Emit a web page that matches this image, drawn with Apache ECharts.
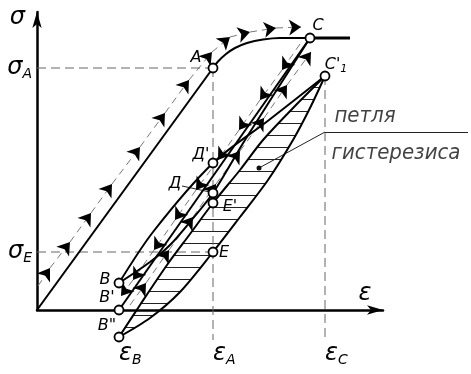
<!DOCTYPE html>
<html><head><meta charset="utf-8">
<script src="https://cdn.jsdelivr.net/npm/echarts@6/dist/echarts.min.js"></script>
<style>html,body{margin:0;padding:0;background:#fff}#c{width:471px;height:374px}</style>
</head><body><div id="c"></div>
<script>
// ---------------- data (strain ε, stress σ, arbitrary units) ----------------
const xTickValues = [8.2, 17.6, 28.8];
const xTickSubs   = ['B', 'A', 'C'];
const yTickValues = [24.2, 5.8];
const yTickSubs   = ['A', 'E'];

const pointNames = ['A', 'C', "C'1", "Д'", 'Д', "E'", 'E', 'B', "B'", 'B"'];
const pointEps   = [17.6, 27.3, 28.8, 17.6, 17.6, 17.6, 17.6, 8.2, 8.2, 8.2];
const pointSig   = [24.2, 27.2, 23.4, 14.7, 11.7, 10.7, 5.8, 2.7, 0, -2.7];

// first loading O-A (elastic) and A-C (yield)
const loadEps  = [0, 17.6];
const loadSig  = [0, 24.2];
const yieldEps = [17.6, 18.1, 18.9, 19.8, 21.0, 22.6, 24.3, 27.3];
const yieldSig = [24.2, 24.85, 25.6, 26.2, 26.7, 27.05, 27.2, 27.2];
const plateauEps = [27.3, 31.3];
const plateauSig = [27.2, 27.2];

// unloading from C
const unloadCBpEps = [27.3, 8.2];
const unloadCBpSig = [27.2, 0];
const unloadCDBEps = [27.3, 20.8, 17.6, 15.3, 13.3, 11.3, 8.2];
const unloadCDBSig = [27.2, 17.0, 11.7, 8.8, 6.5, 4.8, 2.7];
// reloading B - Д' - C'1
const reloadEps = [8.2, 11.6, 17.6, 23.2, 28.8];
const reloadSig = [2.7, 7.8, 14.7, 19.0, 23.4];
// stabilised hysteresis loop B" - E' - C'1 (upper) and B" - E - C'1 (lower)
const loopUpperEps = [8.2, 10.3, 13.0, 15.3, 17.6, 20.3, 22.6, 25.8, 28.8];
const loopUpperSig = [-2.7, 0.5, 4.5, 7.6, 10.7, 14.0, 17.0, 20.4, 23.4];
const loopLowerEps = [8.2, 11.3, 14.3, 17.6, 20.3, 23.1, 25.6, 27.3, 28.8];
const loopLowerSig = [-2.7, -0.8, 1.8, 5.8, 9.3, 13.0, 17.0, 20.2, 23.4];

// dashed direction guides (arrow tips along each guide)
const guideLoadEps   = [0.1, 1.3, 3.3, 5.4, 7.5, 10.3, 12.8, 15.2, 17.5, 19.3, 21.3, 23.9, 26.4];
const guideLoadSig   = [2.4, 4.2, 6.8, 9.7, 12.6, 16.3, 19.7, 23.0, 25.8, 27.3, 27.8, 28.2, 28.3];
const guideUnloadEps = [26.3, 24.5, 22.3, 20.2, 18.1, 15.9, 13.8, 11.7, 9.6, 8.4];
const guideUnloadSig = [26.6, 24.0, 21.0, 18.0, 15.0, 12.0, 9.0, 6.0, 3.0, 1.4];
const guideReloadEps = [9.3, 10.9, 13.2, 15.6, 17.9, 20.3, 22.7, 25.0, 27.4];
const guideReloadSig = [0.5, 2.7, 6.0, 9.3, 12.6, 15.9, 19.2, 22.5, 25.8];

// reference (dashed) lines
const refSigAEps = [0, 17.6];   const refSigASig = [24.2, 24.2];
const refSigEEps = [0, 17.6];   const refSigESig = [5.8, 5.8];
const refEpsAEps = [17.6, 17.6]; const refEpsASig = [24.2, -3.0];
const refEpsCEps = [28.8, 28.8]; const refEpsCSig = [23.4, -3.0];

// annotation "петля гистерезиса"
const noteLine1 = 'петля';
const noteLine2 = 'гистерезиса';
const notePosEps = [32.8, 35.9];
const notePosSig = [19.4, 15.7];
const underlineEps = [28.8, 43.1]; const underlineSig = [17.8, 17.8];
const leaderEps = [28.8, 22.2];    const leaderSig = [17.8, 14.2];
const leaderDLEps = [14.5, 17.3];  const leaderDLSig = [12.4, 11.8];

// ---------------- chart ----------------
const FONT = "'DejaVu Sans', sans-serif";
const zip = (a, b) => a.map((v, i) => [v, b[i]]);
const segs = (a, b) => a.slice(1).map((v, i) => ({coords: [[a[i], b[i]], [v, b[i + 1]]]}));

const solid = (ex, sy, w, smooth) => ({
  type: 'line', data: zip(ex, sy), symbol: 'none', smooth: smooth || false, clip: false,
  silent: true, lineStyle: {color: '#000', width: w}, z: 3
});
const dashed = (ex, sy) => ({
  type: 'line', data: zip(ex, sy), symbol: 'none', clip: false, silent: true,
  lineStyle: {color: '#666', width: 1, type: [9, 5]}, z: 2
});
const guide = (ex, sy) => ([
  {type: 'lines', coordinateSystem: 'cartesian2d', data: segs(ex, sy), clip: false, silent: true,
   lineStyle: {color: '#777', width: 1, type: [7, 5], opacity: 1}, symbol: 'none', z: 2},
  {type: 'lines', coordinateSystem: 'cartesian2d', data: segs(ex, sy), clip: false, silent: true,
   lineStyle: {color: '#000', width: 0, opacity: 1}, symbol: ['none', 'arrow'], symbolSize: [5, 12], z: 4}
]);
const thin = (ex, sy) => ({type: 'lines', coordinateSystem: 'cartesian2d', clip: false, silent: true,
  data: [{coords: zip(ex, sy)}], lineStyle: {color: '#222', width: 1, opacity: 1}, symbol: 'none', z: 3});

const pc = document.createElement('canvas');
pc.width = 8; pc.height = 12;
const pctx = pc.getContext('2d');
pctx.fillStyle = '#222';
pctx.fillRect(0, 3, 8, 1);

const labelOffset = {A: [-17, -10], C: [8, -12], "C'1": [11, -11], "Д'": [-12, -8], 'Д': [-38, -9],
  "E'": [17, 4], E: [11, 1], B: [-14, -3], "B'": [-12, -12], 'B"': [-12, -11]};
const labelText = n => n === "C'1" ? "{t|C'}{s|1}" : '{t|' + n + '}';

const ptRich = {t: {fontFamily: FONT, fontStyle: 'italic', fontSize: 16, color: '#000'},
  s: {fontFamily: FONT, fontStyle: 'italic', fontSize: 11, color: '#000', padding: [9, 0, 0, 0]}};

const axRich = {m: {fontFamily: FONT, fontStyle: 'italic', fontSize: 24, color: '#000', lineHeight: 28},
  s: {fontFamily: FONT, fontStyle: 'italic', fontSize: 14, color: '#000', padding: [12, 0, 0, 0], lineHeight: 28}};

const option = {
  animation: false,
  grid: {left: 37, right: 88, top: 12, bottom: 64},
  xAxis: {
    type: 'value', min: 0, max: 34.6,
    name: 'ε', nameLocation: 'end', nameGap: -18,
    nameTextStyle: {fontFamily: FONT, fontStyle: 'italic', fontSize: 24, color: '#000', align: 'center', verticalAlign: 'bottom', padding: [0, 0, 4, 0]},
    axisLine: {show: true, symbol: ['none', 'arrow'], symbolSize: [7, 16], lineStyle: {color: '#000', width: 2.5}},
    axisTick: {show: false}, splitLine: {show: false},
    axisLabel: {customValues: xTickValues, margin: 30, align: 'left',
      formatter: v => '{m|ε}{s|' + xTickSubs[xTickValues.indexOf(v)] + '}', rich: axRich}
  },
  yAxis: {
    type: 'value', min: 0, max: 29.8,
    name: 'σ', nameLocation: 'end', nameGap: -6,
    nameTextStyle: {fontFamily: FONT, fontStyle: 'italic', fontSize: 24, color: '#000', align: 'right', verticalAlign: 'middle', padding: [0, 12, 0, 0]},
    axisLine: {show: true, symbol: ['none', 'arrow'], symbolSize: [7, 16], lineStyle: {color: '#000', width: 2.5}},
    axisTick: {show: false}, splitLine: {show: false},
    axisLabel: {customValues: yTickValues, margin: 5,
      formatter: v => '{m|σ}{s|' + yTickSubs[yTickValues.indexOf(v)] + '}', rich: axRich}
  },
  series: [
    {type: 'custom', coordinateSystem: 'cartesian2d', clip: false, silent: true, z: 1, data: [[0, 0]],
     renderItem: (params, api) => {
       const pts = [];
       loopUpperEps.forEach((e, i) => pts.push(api.coord([e, loopUpperSig[i]])));
       for (let i = loopLowerEps.length - 1; i >= 0; i--) pts.push(api.coord([loopLowerEps[i], loopLowerSig[i]]));
       return {type: 'polygon', shape: {points: pts, smooth: 0.25}, style: {fill: {image: pc, repeat: 'repeat'}, stroke: null}};
     }},
    dashed(refSigAEps, refSigASig), dashed(refSigEEps, refSigESig),
    dashed(refEpsAEps, refEpsASig), dashed(refEpsCEps, refEpsCSig),
    ...guide(guideLoadEps, guideLoadSig),
    ...guide(guideUnloadEps, guideUnloadSig),
    ...guide(guideReloadEps, guideReloadSig),
    solid(loadEps, loadSig, 2),
    solid(yieldEps, yieldSig, 2, 0.4),
    solid(plateauEps, plateauSig, 3.2),
    solid(unloadCBpEps, unloadCBpSig, 2),
    solid(unloadCDBEps, unloadCDBSig, 2, 0.3),
    solid(reloadEps, reloadSig, 2, 0.3),
    solid(loopUpperEps, loopUpperSig, 2, 0.3),
    solid(loopLowerEps, loopLowerSig, 2, 0.3),
    thin(underlineEps, underlineSig),
    thin(leaderEps, leaderSig),
    thin(leaderDLEps, leaderDLSig),
    {type: 'scatter', data: [[leaderEps[1], leaderSig[1]]], symbol: 'circle', symbolSize: 5, clip: false, silent: true,
     itemStyle: {color: '#111', opacity: 1}, z: 5},
    {type: 'scatter', clip: false, silent: true, z: 6, symbol: 'circle', symbolSize: 9,
     itemStyle: {color: '#fff', borderColor: '#000', borderWidth: 1.8, opacity: 1},
     data: pointNames.map((n, i) => ({value: [pointEps[i], pointSig[i]], name: n,
       label: {show: true, position: 'inside', offset: labelOffset[n], formatter: labelText(n), rich: ptRich}}))},
    {type: 'scatter', clip: false, silent: true, z: 6, symbolSize: 1, itemStyle: {color: 'transparent'},
     data: [noteLine1, noteLine2].map((t, i) => ({value: [notePosEps[i], notePosSig[i]],
       label: {show: true, position: 'inside', formatter: t,
         fontFamily: "'Liberation Sans Narrow', 'DejaVu Sans Condensed', 'DejaVu Sans', sans-serif",
         fontStyle: 'italic', fontSize: 22, color: '#111'}}))}
  ]
};
const chart = echarts.init(document.getElementById('c'));
chart.setOption(option);
</script>
</body></html>
